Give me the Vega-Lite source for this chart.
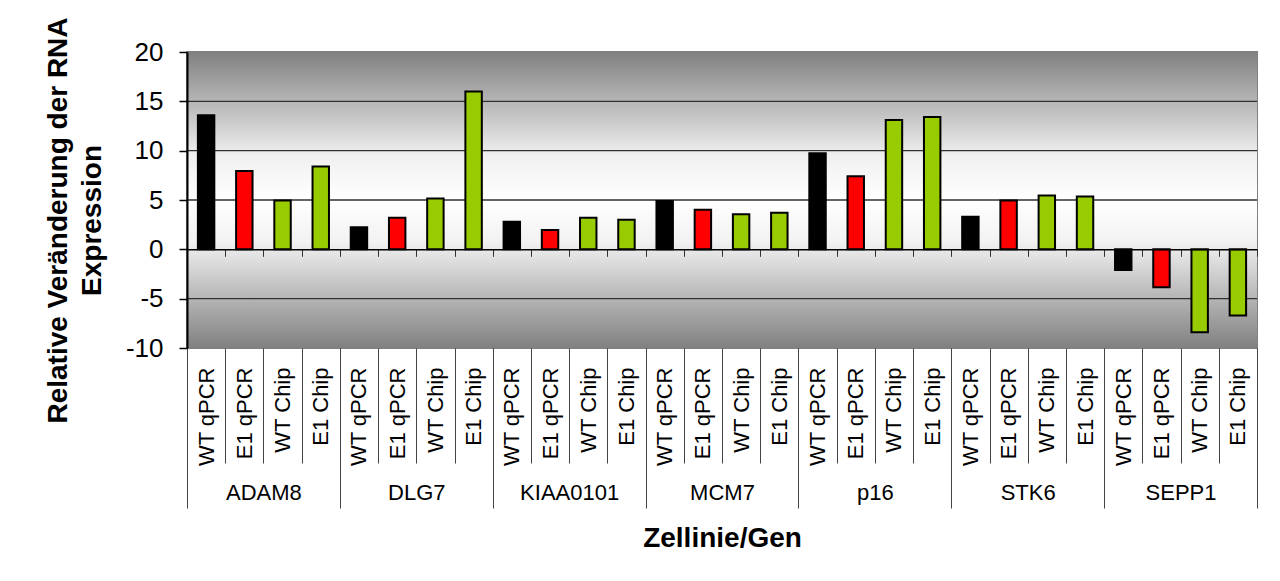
{
  "$schema": "https://vega.github.io/schema/vega-lite/v6.json",
  "width": 1070,
  "height": 296,
  "autosize": {"type": "none"},
  "padding": {"left": 187, "top": 52, "right": 23, "bottom": 233},
  "background": "white",
  "config": {
    "font": "Liberation Sans",
    "view": {"stroke": "#808080", "strokeWidth": 2},
    "axis": {"labelColor": "#000000", "titleColor": "#000000", "labelFont": "Liberation Sans", "titleFont": "Liberation Sans"}
  },
  "datasets": {
    "bars": [
      {"gene": "ADAM8", "sample": "WT qPCR", "key": "ADAM8|WT qPCR", "value": 13.6},
      {"gene": "ADAM8", "sample": "E1 qPCR", "key": "ADAM8|E1 qPCR", "value": 7.95},
      {"gene": "ADAM8", "sample": "WT Chip", "key": "ADAM8|WT Chip", "value": 4.95},
      {"gene": "ADAM8", "sample": "E1 Chip", "key": "ADAM8|E1 Chip", "value": 8.4},
      {"gene": "DLG7", "sample": "WT qPCR", "key": "DLG7|WT qPCR", "value": 2.25},
      {"gene": "DLG7", "sample": "E1 qPCR", "key": "DLG7|E1 qPCR", "value": 3.2},
      {"gene": "DLG7", "sample": "WT Chip", "key": "DLG7|WT Chip", "value": 5.15},
      {"gene": "DLG7", "sample": "E1 Chip", "key": "DLG7|E1 Chip", "value": 16.0},
      {"gene": "KIAA0101", "sample": "WT qPCR", "key": "KIAA0101|WT qPCR", "value": 2.8},
      {"gene": "KIAA0101", "sample": "E1 qPCR", "key": "KIAA0101|E1 qPCR", "value": 1.95},
      {"gene": "KIAA0101", "sample": "WT Chip", "key": "KIAA0101|WT Chip", "value": 3.2},
      {"gene": "KIAA0101", "sample": "E1 Chip", "key": "KIAA0101|E1 Chip", "value": 3.0},
      {"gene": "MCM7", "sample": "WT qPCR", "key": "MCM7|WT qPCR", "value": 4.9},
      {"gene": "MCM7", "sample": "E1 qPCR", "key": "MCM7|E1 qPCR", "value": 4.0},
      {"gene": "MCM7", "sample": "WT Chip", "key": "MCM7|WT Chip", "value": 3.55},
      {"gene": "MCM7", "sample": "E1 Chip", "key": "MCM7|E1 Chip", "value": 3.7},
      {"gene": "p16", "sample": "WT qPCR", "key": "p16|WT qPCR", "value": 9.75},
      {"gene": "p16", "sample": "E1 qPCR", "key": "p16|E1 qPCR", "value": 7.4},
      {"gene": "p16", "sample": "WT Chip", "key": "p16|WT Chip", "value": 13.1},
      {"gene": "p16", "sample": "E1 Chip", "key": "p16|E1 Chip", "value": 13.4},
      {"gene": "STK6", "sample": "WT qPCR", "key": "STK6|WT qPCR", "value": 3.3},
      {"gene": "STK6", "sample": "E1 qPCR", "key": "STK6|E1 qPCR", "value": 4.95},
      {"gene": "STK6", "sample": "WT Chip", "key": "STK6|WT Chip", "value": 5.45},
      {"gene": "STK6", "sample": "E1 Chip", "key": "STK6|E1 Chip", "value": 5.35},
      {"gene": "SEPP1", "sample": "WT qPCR", "key": "SEPP1|WT qPCR", "value": -2.1},
      {"gene": "SEPP1", "sample": "E1 qPCR", "key": "SEPP1|E1 qPCR", "value": -3.85},
      {"gene": "SEPP1", "sample": "WT Chip", "key": "SEPP1|WT Chip", "value": -8.4},
      {"gene": "SEPP1", "sample": "E1 Chip", "key": "SEPP1|E1 Chip", "value": -6.7}
    ],
    "bg": [{"lo": -10, "hi": 20}],
    "grid": [{"v": 15}, {"v": 10}, {"v": 5}, {"v": -5}]
  },
  "resolve": {"scale": {"x": "independent"}, "axis": {"x": "independent"}},
  "layer": [
    {
      "data": {"name": "bg"},
      "mark": {
        "type": "rect",
        "fill": {
          "gradient": "linear", "x1": 0, "y1": 0, "x2": 0, "y2": 1,
          "stops": [
            {"offset": 0, "color": "#808080"},
            {"offset": 0.35, "color": "#f0f0f0"},
            {"offset": 0.5, "color": "#ffffff"},
            {"offset": 0.64, "color": "#f2f2f2"},
            {"offset": 1, "color": "#808080"}
          ]
        }
      },
      "encoding": {
        "y": {
          "field": "lo", "type": "quantitative",
          "scale": {"domain": [-10, 20], "nice": false, "zero": false}
        },
        "y2": {"field": "hi"}
      }
    },
    {
      "data": {"name": "grid"},
      "mark": {"type": "rule", "color": "#303030", "strokeWidth": 1.3},
      "encoding": {
        "y": {"field": "v", "type": "quantitative"}
      }
    },
    {
      "data": {"name": "bars"},
      "mark": {"type": "bar", "opacity": 0},
      "encoding": {
        "x": {
          "field": "key", "type": "nominal", "sort": null,
          "scale": {"type": "band", "paddingInner": 0, "paddingOuter": 0},
          "axis": {
            "orient": "bottom", "offset": -98.67, "zindex": 1,
            "labels": false, "title": null, "grid": false,
            "domain": true, "domainColor": "#000000", "domainWidth": 1.5,
            "ticks": true, "tickBand": "extent", "tickSize": 7, "tickColor": "#333333", "tickWidth": 1
          }
        }
      }
    },
    {
      "data": {"name": "bars"},
      "mark": {"type": "bar", "stroke": "#000000", "strokeWidth": 2},
      "encoding": {
        "x": {
          "field": "key", "type": "nominal", "sort": null,
          "scale": {"paddingInner": 0.57, "paddingOuter": 0.285},
          "axis": null
        },
        "y": {
          "field": "value", "type": "quantitative",
          "scale": {"domain": [-10, 20], "nice": false, "zero": false},
          "axis": {
            "orient": "left", "zindex": 1,
            "values": [-10, -5, 0, 5, 10, 15, 20],
            "labelExpr": "'' + datum.value",
            "grid": false,
            "domain": true, "domainColor": "#000000", "domainWidth": 2,
            "ticks": true, "tickColor": "#000000", "tickSize": 8, "tickWidth": 1.5,
            "labelFontSize": 26, "labelPadding": 16,
            "title": ["Relative Veränderung der RNA", "Expression"],
            "titleFontSize": 28, "titleFontWeight": "bold",
            "titleAngle": 270, "titleAlign": "center", "titleBaseline": "middle",
            "titleLineHeight": 34,
            "titleX": -129, "titleY": 168
          }
        },
        "color": {
          "field": "sample", "type": "nominal",
          "scale": {"domain": ["WT qPCR", "E1 qPCR", "WT Chip", "E1 Chip"], "range": ["#000000", "#ff0000", "#99cc00", "#99cc00"]},
          "legend": null
        }
      }
    },
    {
      "data": {"name": "bars"},
      "mark": {"type": "bar", "opacity": 0},
      "encoding": {
        "x": {
          "field": "key", "type": "nominal", "sort": null,
          "scale": {"type": "band", "paddingInner": 0, "paddingOuter": 0},
          "axis": {
            "orient": "bottom", "offset": 0,
            "labelExpr": "split(datum.label, '|')[1]",
            "labelAngle": 270, "labelAlign": "right", "labelBaseline": "middle",
            "labelFontSize": 22, "labelPadding": -96,
            "labelOverlap": false, "labelBound": false, "labelFlush": false,
            "title": null, "grid": false, "domain": false,
            "ticks": true, "tickBand": "extent", "tickSize": 115, "tickColor": "#444444", "tickWidth": 1
          }
        }
      }
    },
    {
      "data": {"name": "bars"},
      "mark": {"type": "bar", "opacity": 0},
      "encoding": {
        "x": {
          "field": "gene", "type": "nominal", "sort": null,
          "scale": {"type": "band", "paddingInner": 0, "paddingOuter": 0},
          "axis": {
            "orient": "bottom", "offset": 0,
            "labelAngle": 0, "labelAlign": "center", "labelBaseline": "middle",
            "labelFontSize": 22, "labelPadding": -16,
            "labelOverlap": false, "labelBound": false, "labelFlush": false,
            "grid": false, "domain": false,
            "ticks": true, "tickBand": "extent", "tickSize": 160, "tickColor": "#444444", "tickWidth": 1,
            "title": "Zellinie/Gen", "titleFontSize": 28, "titleFontWeight": "bold",
            "titleBaseline": "middle", "titleY": 190
          }
        }
      }
    }
  ]
}
